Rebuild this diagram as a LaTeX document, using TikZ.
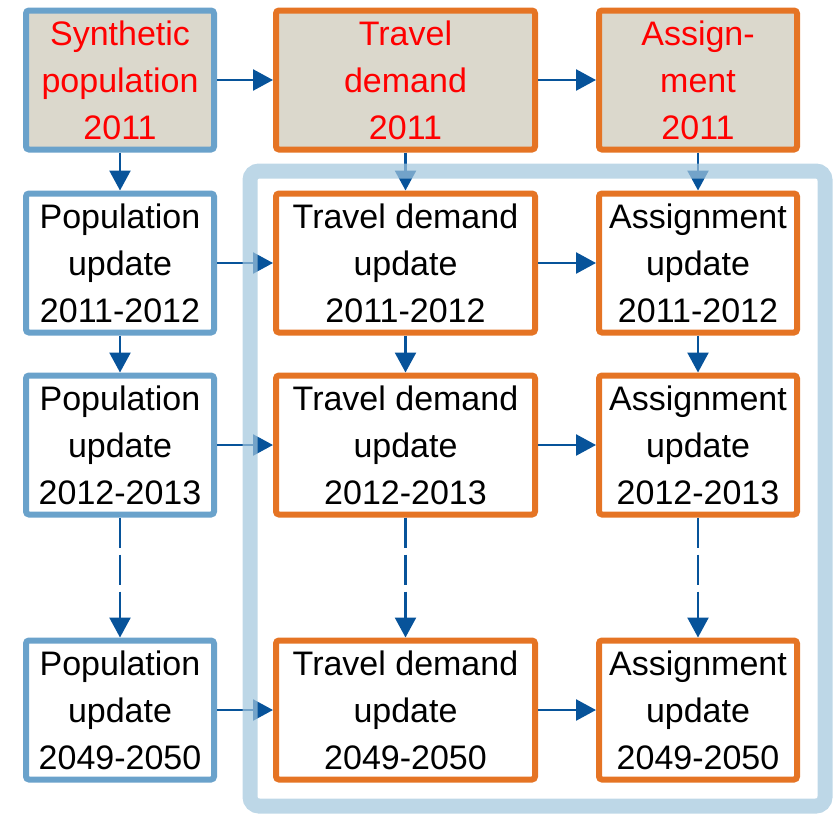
\documentclass[tikz,border=0pt]{standalone}
\usepackage{fontspec}
\setmainfont{Liberation Sans}
\usepackage{tikz}
\usetikzlibrary{arrows.meta}

\definecolor{popblue}{HTML}{6AA2CB}
\definecolor{modorange}{HTML}{E57424}
\definecolor{basegrey}{HTML}{DBD8CC}
\definecolor{flowblue}{HTML}{07539A}
\definecolor{framblue}{HTML}{A1C6DD}

\tikzset{
  box/.style={draw,line width=6pt,rounded corners=3pt,inner sep=0pt,align=center,
    minimum height=139pt,font=\fontsize{34}{47}\selectfont,
    execute at begin node={\rule{0pt}{31pt}}},
  popbox/.style={box,draw=popblue,minimum width=188pt},
  demandbox/.style={box,draw=modorange,minimum width=259pt},
  assignbox/.style={box,draw=modorange,minimum width=198pt},
  basebox/.style={fill=basegrey,text=red},
  flow/.style={draw=flowblue,line width=2.5pt,-{Triangle[length=20pt,width=21pt]}},
  framebox/.style={draw=framblue,line width=15pt,rounded corners=9pt,opacity=0.7}
}

\begin{document}
\begin{tikzpicture}[x=1pt,y=-1pt]
\useasboundingbox (0,0) rectangle (835,814);
% base year
\node[popbox,basebox] (synpop) at (120,80) {Synthetic\\population\\2011};
\node[demandbox,basebox] (dem0) at (405.5,80) {Travel\\demand\\2011};
\node[assignbox,basebox] (asg0) at (698,80) {Assign-\\ment\\2011};
% yearly updates
\node[popbox] (pop1) at (120,263) {Population\\update\\2011-2012};
\node[demandbox] (dem1) at (405.5,263) {Travel demand\\update\\2011-2012};
\node[assignbox] (asg1) at (698,263) {Assignment\\update\\2011-2012};
\node[popbox] (pop2) at (120,445) {Population\\update\\2012-2013};
\node[demandbox] (dem2) at (405.5,445) {Travel demand\\update\\2012-2013};
\node[assignbox] (asg2) at (698,445) {Assignment\\update\\2012-2013};
\node[popbox] (pop3) at (120,710) {Population\\update\\2049-2050};
\node[demandbox] (dem3) at (405.5,710) {Travel demand\\update\\2049-2050};
\node[assignbox] (asg3) at (698,710) {Assignment\\update\\2049-2050};
% horizontal flows
\draw[flow] (synpop) -- (dem0);
\draw[flow] (dem0) -- (asg0);
\foreach \i in {1,2,3}{
  \draw[flow] (pop\i) -- (dem\i);
  \draw[flow] (dem\i) -- (asg\i);
}
% vertical flows
\draw[flow] (synpop) -- (pop1);
\draw[flow] (dem0) -- (dem1);
\draw[flow] (asg0) -- (asg1);
\foreach \col in {pop,dem,asg}{
  \draw[flow] (\col1) -- (\col2);
  \draw[flow,dash pattern=on 30pt off 7pt] (\col2) -- (\col3);
}
% frame round the model runs
\draw[framebox] (250,171) rectangle (825,806);
\end{tikzpicture}
\end{document}
